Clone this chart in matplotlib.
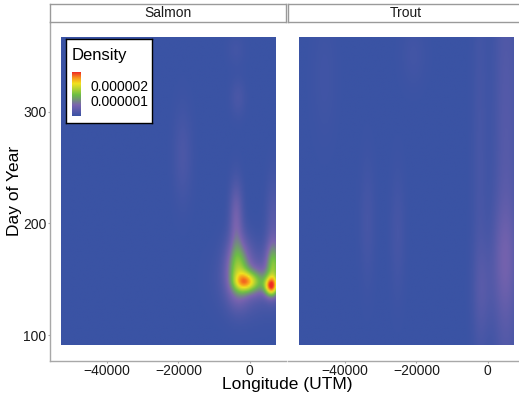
import numpy as np
import matplotlib
matplotlib.use('Agg')
import matplotlib.pyplot as plt
from matplotlib.colors import LinearSegmentedColormap

plt.rcParams['font.family'] = ['Liberation Sans', 'DejaVu Sans']

# ── data: density hot spots (lon, day, sd_lon, sd_day, peak x1e-6) ──
PANELS = ['Salmon', 'Trout']
LON_RANGE = (-53000, 7000)
DAY_RANGE = (91, 366)

SALMON_LON = [5800, -1500, -3500, 1500, 6500, 0, -4000, 6500, -19000, -3500, -4000]
SALMON_DAY = [143, 147, 158, 147, 160, 150, 205, 195, 260, 312, 355]
SALMON_SDX = [1300, 2000, 2200, 2500, 1500, 5500, 1300, 1500, 1800, 1500, 1800]
SALMON_SDY = [6, 6, 19, 8, 15, 20, 22, 30, 30, 12, 10]
SALMON_PEAK = [1.97, 1.15, 1.3, 0.8, 1.2, 0.45, 0.6, 0.35, 0.2, 0.18, 0.1]

TROUT_LON = [5000, 4500, -1500, -2500, -34000, -25500, -21000, -46000]
TROUT_DAY = [230, 165, 140, 230, 200, 190, 350, 330]
TROUT_SDX = [2500, 2500, 2000, 1500, 1500, 1500, 2500, 2500]
TROUT_SDY = [200, 35, 30, 150, 40, 40, 20, 40]
TROUT_PEAK = [0.32, 0.35, 0.22, 0.15, 0.14, 0.14, 0.1, 0.08]

DENS_MAX = 2.93          # x1e-6, top of the colour bar
CBAR_TICKS = [1e-6, 2e-6]

cmap = LinearSegmentedColormap.from_list('dens', [
    (0.0, '#3A53A4'), (0.25, '#7B64AF'), (0.48, '#6CBE45'),
    (0.62, '#B5D334'), (0.74, '#F2E21F'), (0.87, '#F7941D'), (1.0, '#EE2A24')])

W, H = 519, 396


def px(x0, y0, x1, y1):
    """pixel box (top-left origin) -> figure fraction rect"""
    return [x0 / W, 1 - y1 / H, (x1 - x0) / W, (y1 - y0) / H]


def density(lon, day, sdx, sdy, peak):
    gx = np.linspace(*LON_RANGE, 200)
    gy = np.linspace(*DAY_RANGE, 200)
    X, Y = np.meshgrid(gx, gy)
    Z = np.zeros_like(X)
    for mx, my, sx, sy, p in zip(lon, day, sdx, sdy, peak):
        Z += p * np.exp(-0.5 * ((X - mx) / sx) ** 2 - 0.5 * ((Y - my) / sy) ** 2)
    return Z * 1e-6


fig = plt.figure(figsize=(W / 100, H / 100), dpi=100)
grey = '#A8A8A8'

boxes = [(50, 285.5), (288, 523.5)]
data = [density(SALMON_LON, SALMON_DAY, SALMON_SDX, SALMON_SDY, SALMON_PEAK),
        density(TROUT_LON, TROUT_DAY, TROUT_SDX, TROUT_SDY, TROUT_PEAK)]

for i, (name, (x0, x1), Z) in enumerate(zip(PANELS, boxes, data)):
    ax = fig.add_axes(px(x0, 22, x1, 361))
    ax.imshow(Z, origin='lower', cmap=cmap, vmin=0, vmax=DENS_MAX * 1e-6,
              extent=[*LON_RANGE, *DAY_RANGE], aspect='auto', interpolation='bilinear')
    ax.set_xlim(-56000, 10000)
    ax.set_ylim(77, 380)
    ax.set_xticks([-40000, -20000, 0])
    ax.set_yticks([100, 200, 300])
    for s in ['top', 'right']:
        ax.spines[s].set_visible(False)
    for s in ['bottom', 'left']:
        ax.spines[s].set_color(grey)
        ax.spines[s].set_linewidth(1.0)
    ax.tick_params(colors=grey, labelcolor='#1a1a1a', labelsize=10, length=1.5,
                   width=0.8, pad=1)
    if i == 1:
        ax.spines['left'].set_visible(False)
        ax.tick_params(axis='y', left=False, labelleft=False)

    # facet strip
    st = fig.add_axes(px(x0, 4, x1, 22))
    st.set_xticks([]); st.set_yticks([])
    for s in st.spines.values():
        s.set_color('#9A9A9A'); s.set_linewidth(1.0)
    st.text(0.5, 0.5, name, ha='center', va='center', fontsize=10, color='#1a1a1a',
            transform=st.transAxes)

# legend (inside Salmon panel)
lg = fig.add_axes(px(66, 39, 152, 123))
lg.set_xticks([]); lg.set_yticks([])
for s in lg.spines.values():
    s.set_color('black'); s.set_linewidth(1.0)
lg.text(6 / 86, 0.80, 'Density', fontsize=12, ha='left', va='center', transform=lg.transAxes)
cb_ax = fig.add_axes(px(72, 72, 81, 116))
grad = np.linspace(0, DENS_MAX * 1e-6, 256).reshape(-1, 1)
cb_ax.imshow(grad, origin='lower', cmap=cmap, aspect='auto',
             extent=[0, 1, 0, DENS_MAX * 1e-6])
cb_ax.set_xticks([])
cb_ax.set_yticks(CBAR_TICKS)
cb_ax.yaxis.tick_right()
cb_ax.set_yticklabels([f'{v:.6f}' for v in CBAR_TICKS])
cb_ax.tick_params(axis='y', length=2, color='white', labelsize=10, pad=5)
for s in cb_ax.spines.values():
    s.set_visible(False)

fig.text(287 / W, 1 - 385 / H, 'Longitude (UTM)', ha='center', va='center', fontsize=12.5)
fig.text(15 / W, 1 - 191 / H, 'Day of Year', ha='center', va='center', fontsize=12.5,
         rotation=90)

fig.savefig('out.png', dpi=100)
